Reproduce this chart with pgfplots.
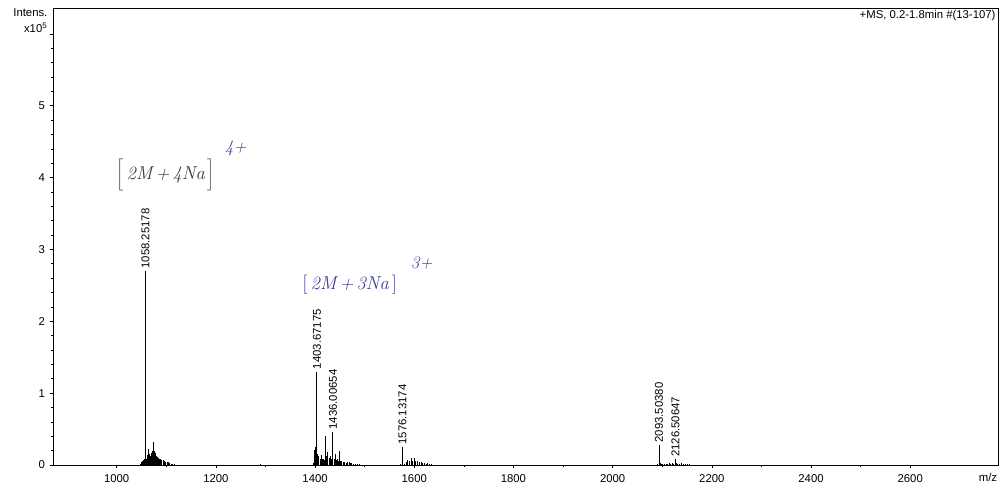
\documentclass[border=0pt]{standalone}
\usepackage{pgfplots}
\pgfplotsset{compat=1.18}
\usepackage{pgfplotstable}
\usepackage{fontspec}
\setsansfont{Liberation Sans}
\renewcommand{\familydefault}{\sfdefault}
\definecolor{inkblue}{HTML}{3C3C9C}
\definecolor{inkdark}{HTML}{3A3A44}

\pgfplotstableread{
x y
900 0.004
960 0.005
1010 0.004
1048 0.02
1050.5 0.04
1052.9 0.056
1054.5 0.07
1056.2 0.08
1060 0.09
1061.6 0.10
1063 0.14
1064.3 0.22
1066 0.15
1067.6 0.125
1069.3 0.14
1071 0.17
1072.7 0.20
1074.4 0.32
1076 0.20
1077.7 0.17
1079.7 0.13
1081.7 0.11
1084 0.10
1086.4 0.09
1088.7 0.08
1091 0.075
1093.7 0.065
1096.5 0.056
1099 0.045
1102 0.04
1104.5 0.035
1107 0.03
1110 0.02
1113 0.015
1117 0.008
1180 0.005
1250 0.004
1290 0.008
1345 0.005
1396 0.03
1399.1 0.21
1401.1 0.25
1405.5 0.15
1407.1 0.12
1410 0.09
1412.5 0.14
1415 0.08
1417.2 0.09
1419.5 0.07
1421.9 0.40
1424 0.12
1425.9 0.18
1428.2 0.10
1430.5 0.12
1433 0.08
1439 0.09
1442 0.16
1444 0.07
1446 0.08
1448 0.06
1450.1 0.20
1452 0.05
1454 0.06
1457 0.04
1459.5 0.04
1463 0.03
1466 0.035
1469 0.045
1472 0.03
1474 0.03
1478 0.02
1481 0.015
1485 0.012
1489 0.01
1530 0.005
1572 0.02
1580 0.02
1583.5 0.04
1586.8 0.07
1590 0.05
1593.5 0.10
1597 0.06
1600.3 0.10
1603.5 0.05
1607 0.05
1610 0.035
1613.6 0.04
1617 0.025
1620.4 0.03
1624 0.02
1627 0.025
1631 0.015
1635 0.01
1700 0.006
1760 0.004
1900 0.004
2020 0.005
2090 0.01
2096 0.03
2098.5 0.02
2101.4 0.02
2104.5 0.015
2108 0.02
2111.5 0.02
2115 0.03
2117.5 0.02
2120 0.025
2123 0.02
2129 0.03
2131.6 0.02
2135 0.02
2138 0.025
2142.5 0.015
2147 0.02
2151 0.01
2155 0.01
2250 0.004
2330 0.005
2480 0.004
2560 0.005
2640 0.006
2700 0.004
}\spectrum

\pgfplotstableread{
x y label
1058.25178 2.70 1058.25178
1403.67175 1.30 1403.67175
1436.00654 0.46 1436.00654
1576.13174 0.25 1576.13174
2093.50380 0.28 2093.50380
2126.50647 0.08 2126.50647
}\peaks

\begin{document}
\begin{tikzpicture}
\begin{axis}[
  scale only axis,
  width=708.75pt, height=342.75pt,
  xmin=871.6, xmax=2777, ymin=0, ymax=6.36,
  xtick={1000,1200,...,2600}, minor x tick num=1,
  ytick={0,1,2,3,4,5,6}, yticklabels={0,1,2,3,4,5,{}},
  minor y tick num=4,
  tick align=outside, xtick pos=bottom, ytick pos=left,
  major tick length=2.6pt, minor tick length=1.7pt,
  tick style={black, line width=0.5pt},
  axis line style={line width=0.6pt},
  ticklabel style={font=\fontsize{8.5}{10}\selectfont},
  xticklabel style={yshift=-1pt},
  /pgf/number format/assume math mode=true,
  /pgf/number format/1000 sep={},
  clip=false,
]
\addplot[ycomb, black, line width=0.75pt, mark=none] table[x=x,y=y] {\spectrum};
\addplot[ycomb, black, line width=0.75pt, mark=none,
  nodes near coords, point meta=explicit symbolic,
  every node near coord/.style={rotate=90, anchor=west, inner sep=1.5pt,
    font=\fontsize{8.5}{10}\selectfont, text=black}]
  table[x=x,y=y,meta=label] {\peaks};

\node[text=inkdark, font=\rmfamily\itshape\fontsize{14}{14}\selectfont] at (axis cs:1099,4.04) {$\biggl[$\,2M\,+\,4Na\,$\biggr]$};
\node[text=inkblue, font=\rmfamily\itshape\fontsize{13}{13}\selectfont] at (axis cs:1240,4.40) {4+};
\node[text=inkblue, font=\rmfamily\itshape\fontsize{14}{14}\selectfont] at (axis cs:1470,2.51) {$\bigl[$\,2M\,+\,3Na\,$\bigr]$};
\node[text=inkblue, font=\rmfamily\itshape\fontsize{13}{13}\selectfont] at (axis cs:1615,2.81) {3+};

\node[anchor=north east, align=right, inner sep=0pt, font=\fontsize{8.5}{12.5}\selectfont] at ([xshift=-4pt]rel axis cs:0,1) {Intens.\\x10\textsuperscript{5}};
\node[anchor=north east, inner sep=0pt, font=\fontsize{8.5}{10}\selectfont] at ([xshift=-1.7pt,yshift=-1.5pt]rel axis cs:1,1) {+MS, 0.2-1.8min \#(13-107)};
\node[font=\fontsize{8.5}{10}\selectfont] at ([xshift=-7.5pt,yshift=-9.5pt]rel axis cs:1,0) {m/z};
\end{axis}
\pgfresetboundingbox
\path ([shift={(-39.75pt,-23.25pt)}]current axis.south west) rectangle ([shift={(2.25pt,6pt)}]current axis.north east);
\end{tikzpicture}
\end{document}
